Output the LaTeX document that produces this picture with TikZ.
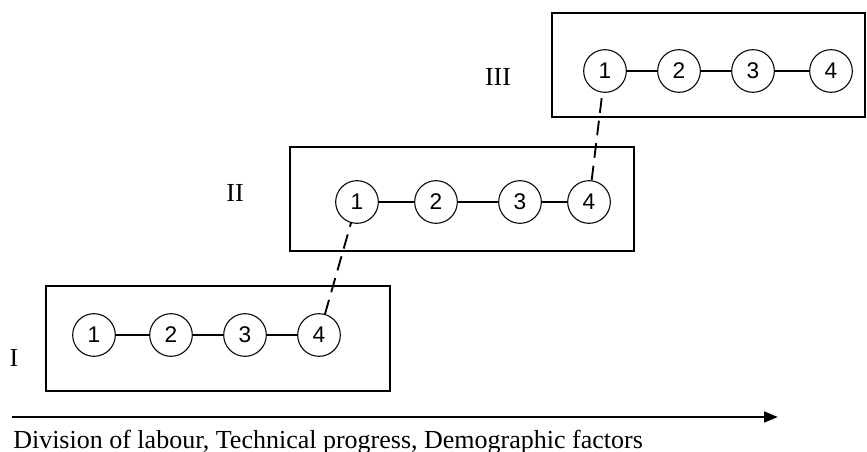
\documentclass[tikz,border=0pt]{standalone}
\usepackage{fontspec}
\setmainfont{Liberation Serif}
\newfontfamily\numfont{Liberation Sans}
\usetikzlibrary{arrows.meta}
\begin{document}
\begin{tikzpicture}[x=0.75pt,y=-0.75pt,
  circ/.style={circle,draw,line width=0.8pt,minimum size=32pt,inner sep=0pt,font=\numfont\fontsize{17}{18}\selectfont},
  grp/.style={draw,line width=1.6pt,inner sep=0pt},
  link/.style={line width=1.2pt},
  jump/.style={line width=1.4pt,dash pattern=on 11pt off 6pt},
  roman/.style={font=\fontsize{19.5}{22}\selectfont,inner sep=0pt},
  axis/.style={line width=2pt,-{Triangle[length=10.5pt,width=8pt]}}]
\useasboundingbox (0,0) rectangle (867,452);
% boxes
\node[grp,minimum width=258pt,minimum height=78.75pt] (b1) at (218,338.5) {};
\node[grp,minimum width=258pt,minimum height=78pt] (b2) at (462,199) {};
\node[grp,minimum width=234.75pt,minimum height=78pt] (b3) at (708.5,65) {};
% labels
\node[roman] (l1) at (14,358) {I};
\node[roman] (l2) at (235,193) {II};
\node[roman] (l3) at (498,77) {III};
% circles group I
\node[circ] (a1) at (94,335) {1};
\node[circ] (a2) at (171,335) {2};
\node[circ] (a3) at (245,335) {3};
\node[circ] (a4) at (319,335) {4};
% group II
\node[circ] (m1) at (357,202) {1};
\node[circ] (m2) at (436,202) {2};
\node[circ] (m3) at (520,202) {3};
\node[circ] (m4) at (589,202) {4};
% group III
\node[circ] (t1) at (605,71) {1};
\node[circ] (t2) at (679,71) {2};
\node[circ] (t3) at (753,71) {3};
\node[circ] (t4) at (831,71) {4};
% links
\draw[link] (a1) -- (a2);
\draw[link] (a2) -- (a3);
\draw[link] (a3) -- (a4);
\draw[link] (m1) -- (m2);
\draw[link] (m2) -- (m3);
\draw[link] (m3) -- (m4);
\draw[link] (t1) -- (t2);
\draw[link] (t2) -- (t3);
\draw[link] (t3) -- (t4);
% dashed jumps
\draw[jump] (a4) -- (m1);
\draw[jump] (m4) -- (t1);
% axis
\coordinate (s) at (12,417);
\coordinate (e) at (778,417);
\draw[axis] (s) -- (e);
\node[anchor=base west,inner sep=0pt,font=\fontsize{19.5}{22}\selectfont] (cap) at (13,448) {Division of labour, Technical progress, Demographic factors};
\end{tikzpicture}
\end{document}
